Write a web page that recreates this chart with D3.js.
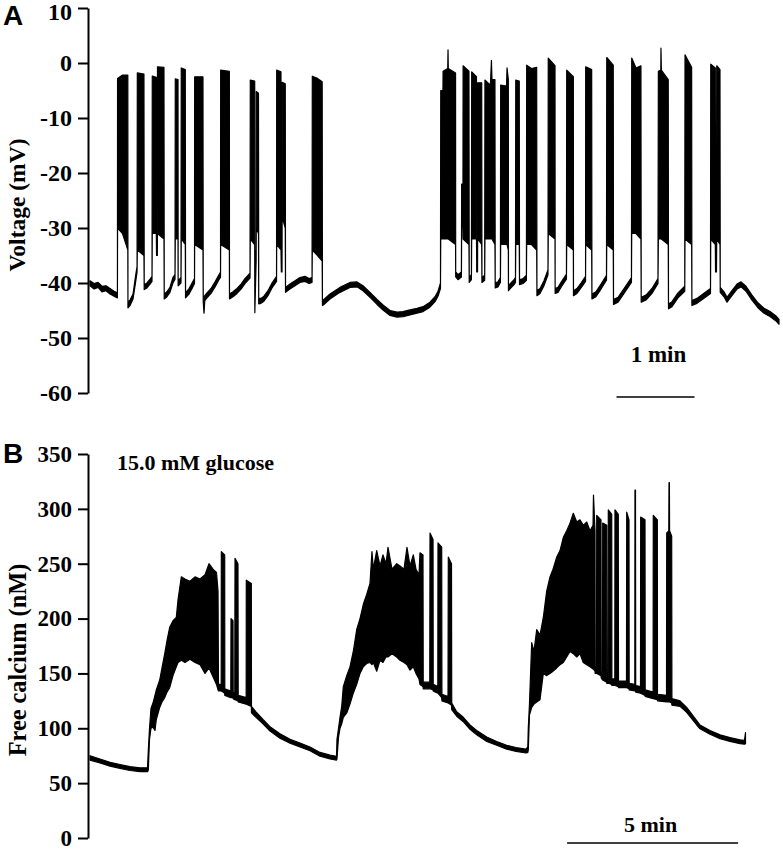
<!DOCTYPE html>
<meta charset="utf-8"/>
<style>body{margin:0;background:#fff}</style>
<svg width="783" height="853"></svg>
<script src="https://d3js.org/d3.v7.min.js"></script>
<script>

var voltageTicks = [10, 0, -10, -20, -30, -40, -50, -60];
var calciumTicks = [0, 50, 100, 150, 200, 250, 300, 350];

var voltage = [
  [0,-40.5,-39.6],[3.1,-41.1,-40.1],[6.2,-40.8,-39.9],[9.2,-41.6,-40.6],[12.3,-41.4,-40.5],
  [15.4,-42,-41],[18.5,-42.4,-41.5],[21.1,-42.7,-41.8],
  [21.2,-30,-2.8],[25,-31,-2.2],[29.1,-34,-2.2],[29.2,-44.5,-43.5],[30.8,-44.1,-43.1],
  [33.1,-42.9,-42],[35,-40,-38.8],[36.2,-38,-37],
  [36.4,-34,-1.8],[41.5,-35,-2],[41.7,-41.2,-40.3],[43.8,-40.9,-40],[46.2,-40.2,-39.3],[47.7,-39.7,-38.8],
  [47.9,-31,-2.4],[51,-31,-2.6],[51.2,-35,-33.5],[51.8,-35,-33.5],[51.9,-31,-0.7],[56.9,-32,-0.8],
  [57.1,-42.9,-42],[59.2,-42.5,-41.6],[61.5,-41.7,-40.8],[63.8,-40,-39],[65.4,-39.3,-38.4],
  [65.6,-32,-2.9],[67.7,-32,-3],[67.8,-40.5,-39.6],[70,-40,-39],[70.2,-32,-0.9],[73.3,-33,-1.2],
  [73.5,-42.7,-41.8],[76.2,-42,-41],[78.5,-41,-40],[80.4,-40.1,-39.2],
  [80.5,-33,-2.5],[86.9,-34,-2.5],[87.1,-43.4,-42.5],[87.7,-45.5,-42.5],[88.3,-43.2,-42.3],
  [90,-42.7,-41.8],[93.1,-41.9,-41],[96.2,-40.7,-39.8],[99.2,-39.4,-38.5],[100.4,-39,-38],
  [100.5,-33,-1.3],[107.2,-34,-1.5],[107.3,-42.9,-42],[110,-42.5,-41.6],[113.1,-41.9,-41],
  [116.2,-41.1,-40.2],[119.2,-40.1,-39.2],[123.1,-39.1,-38.2],
  [123.3,-32,-3.1],[126.7,-33,-3.3],[126.8,-45.4,-34],[127.8,-36,-34.5],[127.9,-30,-5.2],[129.6,-31,-5.5],
  [129.8,-43.8,-42.8],[131.5,-43.7,-42.8],[133.8,-43.3,-42.4],[136.9,-42.3,-41.4],[140,-40.9,-40],[143.5,-39.7,-38.8],
  [143.6,-33,-1.3],[146.9,-34,-1.6],[147.2,-38,-36.5],[147.7,-38,-36.5],[147.8,-28,-3.5],[150.2,-30,-3.8],
  [150.4,-41.7,-40.8],[153.8,-41.1,-40.2],[157.7,-40.5,-39.6],[161.5,-39.9,-39],[165.4,-39.7,-38.8],
  [168.5,-40.1,-39.2],[170.8,-39.9,-39],
  [171,-34,-2.4],[175,-35,-2.8],[178.6,-36,-3.4],[178.8,-44.1,-43.2],[179.5,-44,-43.1],
  [184.6,-42.9,-42],[192.3,-41.7,-40.8],[200,-40.8,-39.9],[205.4,-40.7,-39.8],[210,-41.4,-40.5],
  [215.4,-42.6,-41.7],[220.8,-43.9,-43],[225.4,-44.9,-44],[230.8,-45.9,-45],[236.2,-46.2,-45.3],
  [240.8,-46.1,-45.2],[246.2,-45.8,-44.9],[251.5,-45.5,-44.6],[256.2,-45.2,-44.3],[261.5,-44.4,-43.5],
  [265.4,-43.4,-42.5],[267.7,-42.4,-41.5],[269.6,-41,-40],
  [269.8,-32,-5],[271.5,-32,-5],[271.6,-32,-1.5],[275.2,-32,-1],[275.4,-32,2.4],[275.6,-32,-1],
  [281.2,-33,-1.8],[281.3,-38.9,-38],[283.1,-39.4,-38.5],[285.7,-38.9,-38],
  [285.9,-30,-22],[286.9,-30,-22],[287,-32,-0.5],[291.5,-33,-1.5],[291.7,-39.9,-39],[293.4,-39.4,-38.5],
  [293.6,-32,-1.6],[297.3,-32,-2.5],[297.5,-38,-36.5],[298.1,-38,-36.5],[298.2,-32,-3.6],[301.3,-33,-3.6],
  [301.5,-39.9,-39],[303.6,-39.5,-38.6],
  [303.8,-32,-3.1],[307.7,-32,-4],[308.1,-32,-3.5],[308.8,-32,0.5],[309.2,-32,-3],[311.5,-33,-3],
  [311.7,-40.9,-40],[313.8,-40.7,-39.8],[315.7,-39.9,-39],
  [315.9,-33,-4],[320.4,-33,-4.2],[320.8,-33,-0.9],[321.8,-34,-3],[321.9,-41.4,-40.5],
  [323.8,-40.9,-40],[326.2,-40.3,-39.4],[327.3,-39.9,-39],
  [327.5,-33,-3.1],[330.2,-33,-3.3],[330.4,-40.3,-39.4],[333.1,-40.1,-39.2],[335.7,-39.5,-38.6],
  [335.9,-33,-0.4],[339.6,-33,-1],[343.6,-34,-0.8],[343.8,-42.3,-41.4],[346.2,-41.9,-41],
  [349.2,-40.5,-39.6],[352.3,-38.5,-37.6],
  [352.5,-31,0.9],[357.7,-32,-0.5],[357.8,-41.9,-41],[360,-41.7,-40.8],[363.1,-40.5,-39.6],[366.5,-39.3,-38.4],
  [366.7,-33,-1.3],[371.8,-34,-2.5],[371.9,-42.3,-41.4],[374.6,-41.9,-41],[377.7,-40.9,-40],[381.2,-39.7,-38.8],
  [381.3,-33,-0.7],[385.9,-34,-1.2],[386.1,-42.9,-42],[389.2,-42.5,-41.6],[393.1,-41.1,-40.2],[397.3,-39.5,-38.6],
  [397.5,-33,1],[402.5,-34,-0.4],[402.7,-43.9,-43],[406.2,-43.5,-42.6],[410.8,-41.9,-41],[416.5,-39.9,-39],
  [416.7,-31,0.9],[420,-31,-0.9],[423.8,-32,-0.5],[424,-43.5,-42.6],[427.7,-43.1,-42.2],
  [432.3,-41.9,-41],[436.9,-40.1,-39.2],
  [437.2,-32,-1.5],[439.1,-32,-1.3],[439.2,-32,2.7],[439.5,-32,-1.3],[444.8,-33,-3],
  [445,-44.7,-43.8],[447.7,-44.3,-43.4],[452.3,-42.7,-41.8],[457.5,-41.5,-40.6],
  [457.7,-32,1.5],[462.8,-33,-0.8],[463,-44.1,-43.2],[466.9,-43.7,-42.8],[471.5,-42.9,-42],[477.3,-41.9,-41],
  [477.5,-32,-0.2],[481,-33,-0.9],[481.2,-38,-36.5],[481.9,-38,-36.5],[482.1,-32,-0.5],[484.6,-33,-1.2],
  [484.8,-41.7,-40.8],[487.7,-42.5,-41.6],[490,-43.5,-42.6],[493.8,-42.3,-41.4],[497.7,-41.1,-40.2],
  [500.8,-40.7,-39.8],[504.6,-41.5,-40.6],[509.2,-43.1,-42.2],[513.8,-44.5,-43.6],[518.5,-45.5,-44.6],
  [523.1,-46.1,-45.2],[527.7,-46.9,-46],[530,-47.5,-46.6]
];

// free calcium envelope: [time (s), min nM, max nM]
var calcium = [
  [0,71,75],[17.5,68.5,72],[35.1,65.5,69],[52.6,63.5,67],[70.2,61.5,65],[87.7,60.5,64],[100.9,60.5,64],
  [102.3,62,80],[104.4,90,100],[107,100,118],[110.5,101,123],[114,98,130],[116.3,108,135],[122.3,119,144],
  [126.3,124,155],[131.1,128,168],[135.1,133,180],[139.8,137,192],[145.6,148,198],[151.4,156,201],
  [154.4,160,217],[160.2,162,238],[166.7,160,236],[175.4,163,234],[184.2,160,238],[193,158,236],
  [201.8,150,240],[208.8,155,250],[215.8,147,245],[221.9,140,242],[224.6,135,225],
  [225.4,134,140],[230.2,134,140],[230.4,134,261],[236.3,132,258],[236.5,130,136],[247,128,134],
  [247.4,128,200],[250.9,128,198],[251.2,127,133],[254,126,132],[254.4,126,255],[259.6,125,250],
  [260,124,130],[274,122,128],[274.2,122,235],[283,120,232],[283.3,114,120],
  [291.2,110,115],[303.5,104,108],[315.8,97.5,101.5],[333.3,91,95],[350.9,86.5,90],[368.4,83,86.5],
  [386,79.5,83],[403.5,74.5,78],[421.1,72,75.5],[432.5,71,74.5],
  [433.3,72,90],[436,92,100],[438.6,100,110],[441.6,104,120],[444.4,110,138],[450.4,114,148],
  [456.1,122,156],[461.9,132,170],[467.9,140,190],[473.7,150,200],[479.5,156,213],[485.4,159,222],
  [491.2,160,232],[494.7,158,261],[497,160,245],[503,152,262],[508.8,162,248],[514,160,258],
  [519.3,165,250],[522.8,165,265],[529.8,168,245],[538.1,165,250],[543.9,162,248],[550.9,160,245],
  [556.1,158,265],[561.4,153,248],[567.2,156,258],[571.9,150,245],[577.2,145,240],[578.9,140,260],
  [584.2,138,258],[584.6,136,142],[596.1,136,142],[596.5,136,278],[601.8,135,272],[602.1,134,140],
  [610.2,132,138],[610.5,132,269],[617,128,265],[617.4,125,131],[628.1,123,129],[628.6,123,256],
  [634.2,121,250],[634.6,117,123],
  [643.3,111,115],[654.9,106,110],[666.7,99,103],[678.4,94,98],[696,88,92],[713.5,84.5,88],
  [731,81,84.5],[747.4,79,82.5],[764.9,77.5,81],[768.1,78,83],
  [768.9,80,100],[771,112,122],[774.9,119,178],[778.9,122,170],[783.7,124,190],[789.5,126,185],
  [795.3,150,201],[801.2,148,225],[807,150,238],[812.3,152,245],[818.8,155,256],[824.6,158,262],
  [830.4,160,274],[836.3,165,280],[842.1,170,287],[847.9,168,296],[853.9,165,288],[859.6,168,290],
  [865.4,160,285],[871.4,158,288],[877.2,156,280],[882.5,154,285],[883.3,154,312.6],[886,152,280],
  [886.3,150,156],[888.6,150,156],[889,150,294],[896.5,148,290],[896.8,146,152],[899.1,144,150],
  [899.5,144,287],[906.5,142,285],[906.8,141,147],[908.9,141,147],[909.3,141,299],[915.3,140,295],
  [915.6,139,145],[920.7,139,145],[921,139,299],[926.8,138,295],[927.2,137,143],[941.2,137,143],
  [941.6,137,297],[945.6,136,290],[945.9,135,141],[955.8,134,140],[956.1,134,317],[957,134,317],
  [957.4,133,139],[965.8,132,138],[966.1,132,292.6],[973.7,130,290],[974,129,135],[987.9,127,133],
  [988.2,127,294],[995.3,126,290],[995.6,125,131],[1011.4,124,130],[1011.8,124,278],[1015.4,124,280],
  [1015.8,124,324],[1016.5,124,324],[1016.8,124,280],[1020.5,123,275],[1020.9,121,127],
  [1035.1,120,125],[1046.8,114.5,119],[1064.4,103,107],[1070.2,99.5,103],[1087.7,94.5,98],
  [1105.3,90.5,94],[1122.8,88,91.5],[1140.4,86,89.5],[1148.2,85.5,89],[1150,86,96]
];

var svg = d3.select("svg"),
    serif = "'Liberation Serif', 'Times New Roman', serif",
    sans = "'Liberation Sans', Arial, sans-serif";

function drawPanel(p) {
  var x = d3.scaleLinear().domain(p.xDomain).range(p.xRange);
  var y = d3.scaleLinear().domain(p.yDomain).range(p.yRange);

  var area = d3.area()
      .x(function(d) { return x(d[0]); })
      .y0(function(d) { return y(d[1]); })
      .y1(function(d) { return y(d[2]); });

  svg.append("path")
      .datum(p.data)
      .attr("fill", "#000")
      .attr("stroke", "#000")
      .attr("stroke-width", 1.2)
      .attr("stroke-linejoin", "round")
      .attr("d", area);

  var ax = svg.append("g")
      .attr("transform", "translate(88,0)")
      .call(d3.axisLeft(y).tickValues(p.ticks).tickSize(10).tickSizeOuter(0).tickPadding(6)
        .tickFormat(function(d) { return String(d); }));
  ax.select(".domain").attr("stroke-width", 2);
  ax.selectAll(".tick line").attr("stroke-width", 2);
  ax.selectAll(".tick text")
      .attr("fill", "#000")
      .style("font-family", serif)
      .style("font-weight", "bold")
      .style("font-size", p.tickSize + "px");
  // the topmost label sits a little lower so it stays inside the figure
  ax.selectAll(".tick text").filter(function(d) { return d === p.yDomain[1]; })
      .attr("y", p.topShift);

  svg.append("text")
      .attr("transform", "translate(" + p.labelX + "," + p.labelY + ") rotate(-90)")
      .attr("text-anchor", "middle")
      .style("font-family", serif)
      .style("font-weight", "bold")
      .style("font-size", p.labelSize + "px")
      .text(p.label);

  svg.append("text")
      .attr("x", 3).attr("y", p.letterY)
      .style("font-family", sans)
      .style("font-weight", "bold")
      .style("font-size", "28px")
      .text(p.letter);

  // scale bar
  svg.append("line")
      .attr("x1", x(p.bar.start)).attr("x2", x(p.bar.start + p.bar.len))
      .attr("y1", p.bar.y).attr("y2", p.bar.y)
      .attr("stroke", "#000").attr("stroke-width", 1.5);
  svg.append("text")
      .attr("x", x(p.bar.start + p.bar.len / 2) + p.bar.dx)
      .attr("y", p.bar.textY)
      .attr("text-anchor", "middle")
      .style("font-family", serif)
      .style("font-weight", "bold")
      .style("font-size", p.bar.size + "px")
      .text(p.bar.label);
}

drawPanel({
  data: voltage, ticks: voltageTicks,
  xDomain: [0, 530], xRange: [90, 779],
  yDomain: [-60, 10], yRange: [393, 8],
  tickSize: 24, topShift: 4, label: "Voltage (mV)", labelSize: 23.5, labelX: 25, labelY: 205,
  letter: "A", letterY: 25,
  bar: {start: 405, len: 60, label: "1 min", y: 397, textY: 362, dx: 3, size: 23}
});

drawPanel({
  data: calcium, ticks: calciumTicks,
  xDomain: [0, 1150], xRange: [90, 745.5],
  yDomain: [0, 350], yRange: [838, 454],
  tickSize: 23, topShift: 0, label: "Free calcium (nM)", labelSize: 24.3, labelX: 26, labelY: 660,
  letter: "B", letterY: 463,
  bar: {start: 837, len: 300, label: "5 min", y: 843, textY: 832, dx: -2, size: 22}
});

svg.append("text")
    .attr("x", 117).attr("y", 470)
    .style("font-family", serif)
    .style("font-weight", "bold")
    .style("font-size", "22px")
    .text("15.0 mM glucose");

</script>
